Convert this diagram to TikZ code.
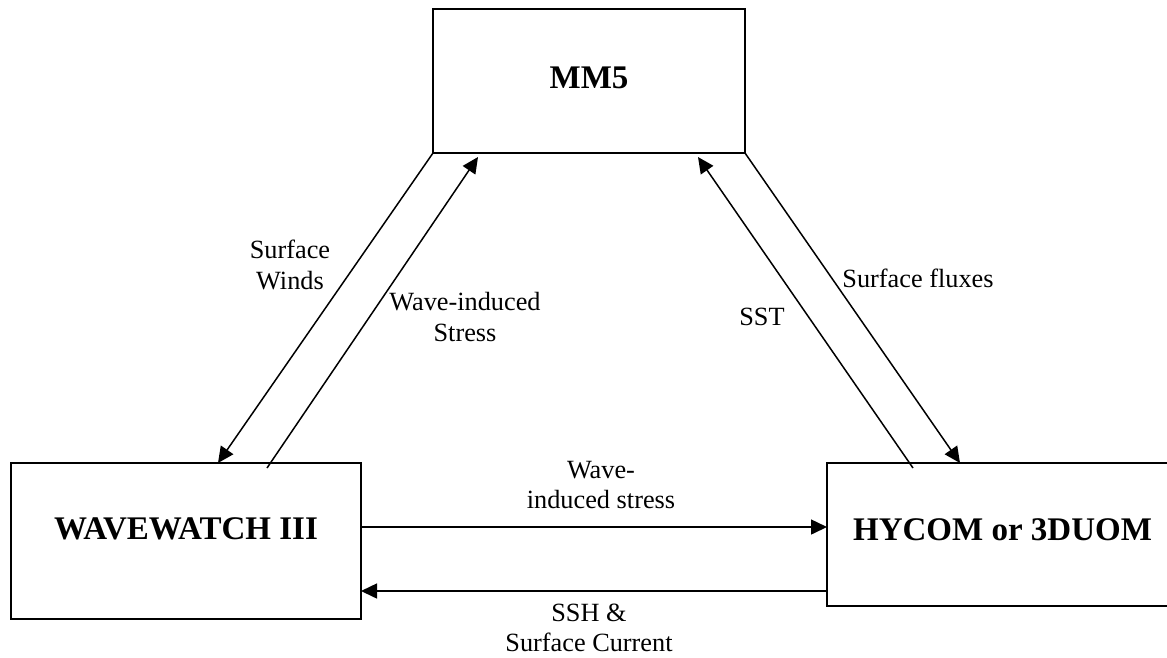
\documentclass[tikz,border=0pt]{standalone}
\usepackage{fontspec}
\setmainfont{Liberation Serif}
\usetikzlibrary{arrows.meta}
\begin{document}
\begin{tikzpicture}[x=1pt,y=-1pt,
  box/.style={draw, line width=2pt, inner sep=0pt, outer sep=0pt, font=\fontsize{33}{38}\selectfont\bfseries},
  lbl/.style={align=center, inner sep=0pt, font=\fontsize{26.3}{30.2}\selectfont},
  conn/.style={line width=1.5pt, -{Triangle[length=16pt,width=15pt]}}]
\clip (0,0) rectangle (1167,657);
\fill[white] (0,0) rectangle (1167,657);
\node[box, minimum width=312pt, minimum height=144pt, text depth=6pt] (mm5) at (589,81) {MM5};
\node[box, minimum width=350pt, minimum height=156pt, text depth=24pt] (ww) at (186,541) {WAVEWATCH III};
\node[box, minimum width=351pt, minimum height=143pt, text depth=9pt] (hy) at (1002.5,534.5) {HYCOM or 3DUOM};
\draw[conn] (mm5.south west) -- ([xshift=207pt]ww.north west);
\draw[conn] ([xshift=256pt,yshift=-5pt]ww.north west) -- ([xshift=45pt,yshift=-4pt]mm5.south west);
\draw[conn] ([xshift=86pt,yshift=-5pt]hy.north west) -- ([xshift=265pt,yshift=-4pt]mm5.south west);
\draw[conn] (mm5.south east) -- ([xshift=133pt]hy.north west);
\draw[conn] ([yshift=-64pt]ww.north east) -- ([yshift=-64pt]hy.north west);
\draw[conn] ([yshift=-128pt]hy.north west) -- ([yshift=-128pt]ww.north east);
\node[lbl] (lsw) at (290,265) {Surface\\Winds};
\node[lbl] (lws) at (465,317) {Wave-induced\\Stress};
\node[lbl] (lsst) at (762,317) {SST};
\node[lbl] (lsf) at (918,278) {Surface fluxes};
\node[lbl] (lwi) at (601,485) {Wave-\\induced stress};
\node[lbl] (lssh) at (589,628) {SSH \&\\Surface Current};
\end{tikzpicture}
\end{document}
